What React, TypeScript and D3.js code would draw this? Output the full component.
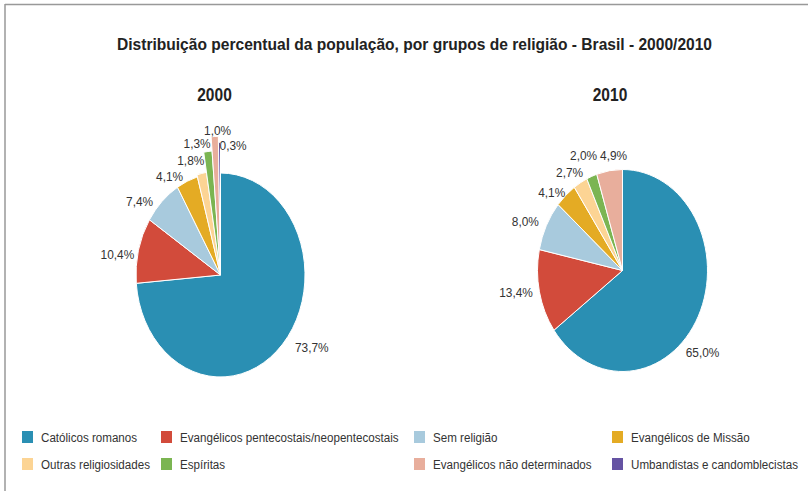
import * as d3 from "d3";

// categories, in pie order (clockwise from 12 o'clock)
const categories = [
  "Católicos romanos",
  "Evangélicos pentecostais/neopentecostais",
  "Sem religião",
  "Evangélicos de Missão",
  "Outras religiosidades",
  "Espíritas",
  "Evangélicos não determinados",
  "Umbandistas e candomblecistas",
];

const values2000 = [73.7, 10.4, 7.4, 4.1, 1.8, 1.3, 1.0, 0.3];
const values2010 = [65.0, 13.4, 8.0, 4.1, 2.7, 2.0, 4.9, 0];

const colors = [
  "#2a8fb3",
  "#d24b3b",
  "#a8cadd",
  "#e4ab24",
  "#fcd494",
  "#7bb552",
  "#e8ae9c",
  "#6553a3",
];

// legend order (row by row)
const legendRows = [
  [0, 1, 2, 3],
  [4, 5, 6, 7],
];
const legendX = [22, 161, 414, 612];

const W = 808;
const H = 491;
const FONT = "'Liberation Sans', Arial, sans-serif";
const SQUEEZE = 0.86; // condensed look

type PieLayout = {
  year: string;
  values: number[];
  cx: number;
  cy: number;
  rx: number;
  ry: number;
  yearX: number;
  // outward pull of thin slices (fraction of radius)
  spike: number[];
  // label nudges [dx, dy, anchor]
  nudge: [number, number, string][];
};

const pies: PieLayout[] = [
  {
    year: "2000",
    values: values2000,
    cx: 220.5,
    cy: 275,
    rx: 84.5,
    ry: 102,
    yearX: 214.5,
    spike: [1, 1, 1, 1, 1.02, 1.22, 1.36, 1.3],
    nudge: [
      [3, -7, "start"],
      [8, 8, "end"],
      [0, 11, "end"],
      [1, 9, "end"],
      [5, 0, "end"],
      [2, -15, "end"],
      [2, -28, "middle"],
      [0, -12, "start"],
    ],
  },
  {
    year: "2010",
    values: values2010,
    cx: 622.5,
    cy: 270.5,
    rx: 85,
    ry: 101,
    yearX: 610,
    spike: [1, 1, 1, 1, 1, 1, 1, 1],
    nudge: [
      [-24, 29, "start"],
      [6, -3, "end"],
      [4, 2, "end"],
      [8, 8, "end"],
      [9, 3, "end"],
      [10, -6.5, "end"],
      [-7.5, 0, "start"],
      [0, 0, "start"],
    ],
  },
];

const fmt = (v: number) => v.toFixed(1).replace(".", ",") + "%";

type CTextProps = {
  x: number;
  y: number;
  anchor?: string;
  size?: number;
  bold?: boolean;
  sq?: number;
  children: string;
};

// text squeezed horizontally to mimic the condensed face of the original
const CText = ({ x, y, anchor = "start", size = 13.5, bold, sq = SQUEEZE, children }: CTextProps) => (
  <text
    transform={`translate(${x},${y}) scale(${sq},1)`}
    dy="0.35em"
    textAnchor={anchor}
    fontFamily={FONT}
    fontWeight={bold ? "bold" : "normal"}
    fontSize={size}
    fill={bold ? "#222" : "#333"}
  >
    {children}
  </text>
);

const PieChart = ({ p }: { p: PieLayout }) => {
  const pie = d3
    .pie<number>()
    .sort(null)
    .value((d) => d);
  const arcs = pie(p.values);
  const arcGen = d3.arc<d3.PieArcDatum<number>>().innerRadius(0);
  const sx = p.rx / p.ry;
  const k = 1.15;

  return (
    <g>
      <CText x={p.yearX} y={95} anchor="middle" size={18.5} bold sq={0.84}>
        {p.year}
      </CText>
      <g transform={`translate(${p.cx},${p.cy}) scale(${sx},1)`}>
        {arcs.map((a, i) =>
          a.value > 0 ? (
            <path
              key={i}
              d={arcGen.outerRadius(p.ry * p.spike[i])(a) || undefined}
              fill={colors[i]}
              stroke="#fff"
              strokeWidth={1}
              vectorEffect="non-scaling-stroke"
            />
          ) : null
        )}
      </g>
      {arcs.map((a, i) => {
        if (a.value <= 0) return null;
        const mid = (a.startAngle + a.endAngle) / 2;
        const [dx, dy, anchor] = p.nudge[i];
        const x = p.cx + p.rx * k * Math.sin(mid) + dx;
        const y = p.cy - p.ry * k * Math.cos(mid) + dy;
        return (
          <CText key={i} x={x} y={y} anchor={anchor} size={13.5} sq={0.88}>
            {fmt(a.value)}
          </CText>
        );
      })}
    </g>
  );
};

export default function App() {
  return (
    <svg width={W} height={H} style={{ display: "block", position: "absolute", left: 0, top: 0 }}>
      <rect width={W} height={H} fill="#fff" />
      <line x1={5} x2={W} y1={4.5} y2={4.5} stroke="#999" strokeWidth={1.5} />
      <line x1={5} x2={5} y1={4} y2={H} stroke="#999" strokeWidth={1.5} />
      <text
        x={414.5}
        y={50}
        textAnchor="middle"
        fontFamily={FONT}
        fontWeight="bold"
        fontSize={16.5}
        fill="#222"
        textLength={595}
        lengthAdjust="spacingAndGlyphs"
      >
        Distribuição percentual da população, por grupos de religião - Brasil - 2000/2010
      </text>
      {pies.map((p) => (
        <PieChart key={p.year} p={p} />
      ))}
      {legendRows.map((row, r) =>
        row.map((ci, c) => (
          <g key={`${r}-${c}`} transform={`translate(${legendX[c]},${431 + r * 27})`}>
            <rect width={11} height={12} fill={colors[ci]} />
            <CText x={19} y={6} size={13.5}>
              {categories[ci]}
            </CText>
          </g>
        ))
      )}
    </svg>
  );
}
